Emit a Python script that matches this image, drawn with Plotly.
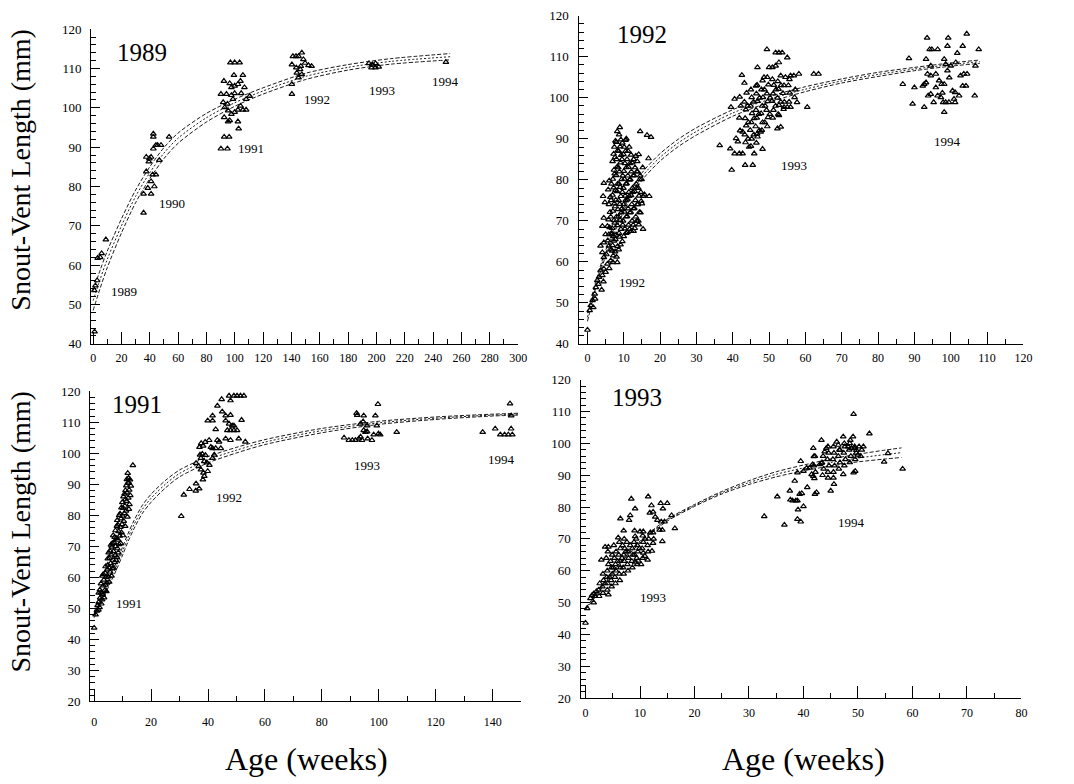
import plotly.graph_objects as go

W, H = 1074, 784
FONT = "Liberation Serif"

# ---------------- data: panel "1989" ----------------
p1989_pts = [
    (1.0, 43.1), (2.8, 56.1), (1.6, 54.8), (0.8, 53.6), (3.2, 61.8), (5.0, 62.0), (6.0, 63.0), (9.0, 66.5),
    (35.6, 73.3), (35.6, 78.1), (38.6, 79.6), (40.9, 78.1), (40.9, 81.3), (43.2, 80.0), (37.5, 83.8),
    (42.0, 83.0), (44.3, 83.0), (39.3, 86.3), (39.7, 87.1), (40.9, 87.5), (42.5, 89.6), (44.3, 90.5),
    (42.5, 93.4), (42.5, 92.6), (45.5, 90.5), (47.9, 90.5), (46.7, 86.7), (53.6, 92.6), (37.5, 87.5),
    (96.9, 111.5), (99.9, 111.5), (103.4, 111.5), (99.4, 108.3), (105.7, 108.3), (92.3, 106.8),
    (96.4, 106.2), (97.6, 105.2), (99.9, 105.6), (102.2, 106.0), (104.0, 106.8), (106.8, 105.2),
    (90.2, 103.5), (94.1, 103.5), (97.6, 103.2), (99.9, 103.7), (104.5, 103.7), (108.0, 102.2),
    (91.8, 101.4), (94.8, 101.0), (98.7, 102.2), (92.9, 100.1), (95.3, 99.3), (102.2, 99.5),
    (104.0, 100.5), (105.7, 99.5), (108.0, 99.5), (97.6, 98.4), (99.9, 98.9), (92.5, 97.6),
    (96.4, 96.8), (102.2, 96.5), (95.3, 96.5), (102.7, 94.7), (92.5, 92.6), (96.0, 92.6),
    (90.2, 89.6), (94.8, 89.6), (110.5, 103.0),
    (141.0, 113.1), (143.2, 113.1), (145.0, 113.1), (147.3, 114.0), (140.3, 111.0), (143.4, 110.2),
    (146.6, 110.6), (148.4, 112.3), (149.6, 111.4), (152.0, 110.8), (154.2, 110.6), (143.8, 108.9),
    (147.3, 108.5), (145.0, 107.7), (140.3, 106.0), (140.3, 103.5), (146.1, 109.8),
    (194.7, 111.3), (197.0, 111.0), (199.3, 111.3), (196.5, 110.2), (199.3, 110.2), (201.6, 110.4),
    (249.0, 111.6),
]
c1_x = [0, 5, 10, 20, 30, 40, 50, 60, 80, 100, 120, 150, 180, 210, 252]
c1_mid = [51.0, 56.5, 61.5, 70.0, 77.5, 83.5, 88.5, 92.3, 97.5, 101.3, 104.3, 108.0, 110.3, 111.8, 113.0]
c1_up = [53.5, 58.8, 63.6, 71.8, 79.1, 85.0, 89.9, 93.6, 98.6, 102.2, 105.1, 108.8, 111.0, 112.5, 113.8]
c1_lo = [48.5, 54.2, 59.4, 68.2, 75.9, 82.0, 87.1, 91.0, 96.4, 100.4, 103.5, 107.2, 109.6, 111.1, 112.2]
p1_labels = [("1989", 22, 53.2), ("1990", 56, 75.8), ("1991", 111.4, 89.6),
             ("1992", 157.7, 102.2), ("1993", 204, 104.3), ("1994", 249, 106.6)]

# ---------------- data: panel "1992" ----------------
p1992_pts = [
    (0.0, 43.4), (0.6, 48.2), (0.9, 49.4), (1.4, 50.6), (1.6, 48.9), (2.0, 52.2), (2.3, 53.8), (2.1, 51.0),
    (2.7, 55.5), (3.2, 56.3), (3.0, 54.6), (3.6, 57.9), (4.1, 56.7), (3.9, 53.2), (4.5, 58.3), (5.0, 57.5),
    (4.4, 55.2), (5.5, 59.5), (4.5, 61.1), (4.1, 62.3), (3.6, 63.9), (4.5, 64.7), (5.0, 66.7), (4.1, 68.7),
    (5.5, 68.7), (4.5, 70.7), (4.3, 76.0), (4.5, 79.2), (4.8, 74.5), (6.4, 60.3), (6.8, 62.7), (5.9, 63.9),
    (7.3, 65.1), (6.6, 66.7), (5.9, 66.7), (7.0, 59.9), (8.2, 59.9), (5.2, 61.8), (6.0, 58.4), (5.6, 65.2),
    (6.1, 68.4), (5.8, 70.3), (6.2, 72.1), (5.9, 74.0), (6.3, 75.8), (5.7, 77.6), (6.0, 79.8),
    (7.1, 61.5), (6.9, 64.0), (7.2, 66.3), (6.8, 68.2), (7.3, 70.1), (7.0, 72.4), (7.4, 74.2), (6.9, 76.3),
    (7.2, 78.1), (7.0, 80.2), (7.3, 82.4), (6.9, 84.5), (7.2, 86.3), (7.4, 88.0),
    (8.0, 61.2), (8.3, 63.8), (7.9, 66.6), (8.2, 68.9), (8.0, 71.0), (8.4, 72.8), (7.8, 75.1), (8.1, 77.2),
    (8.3, 79.0), (7.9, 81.1), (8.2, 83.2), (8.0, 85.0), (8.3, 87.1), (7.9, 89.2), (8.2, 91.8), (8.9, 92.8),
    (9.1, 64.2), (8.8, 66.1), (9.2, 68.0), (9.0, 70.2), (9.3, 72.0), (8.9, 74.1), (9.2, 76.0), (9.0, 78.2),
    (9.4, 80.1), (8.8, 82.0), (9.1, 84.2), (9.3, 86.0), (9.0, 88.1), (9.2, 89.8),
    (10.0, 66.2), (10.3, 68.1), (9.8, 70.0), (10.2, 72.2), (10.0, 74.0), (10.4, 76.1), (9.9, 78.0),
    (10.2, 80.2), (10.0, 82.1), (10.3, 84.0), (9.9, 86.2), (10.1, 88.0), (10.5, 89.7), (10.7, 90.0),
    (11.0, 67.2), (11.3, 69.0), (10.9, 71.1), (11.2, 73.0), (11.0, 75.2), (11.4, 77.0), (10.8, 79.1),
    (11.1, 81.0), (11.3, 83.1), (10.9, 85.0), (11.2, 87.0),
    (12.0, 67.5), (12.3, 70.0), (11.9, 72.1), (12.2, 74.0), (12.0, 76.2), (12.4, 78.0), (11.8, 80.1),
    (12.1, 82.0), (12.3, 84.2), (12.0, 86.1), (12.7, 67.5),
    (13.0, 68.2), (13.3, 71.0), (12.9, 73.1), (13.2, 75.0), (13.0, 77.2), (13.4, 79.0), (12.8, 81.1),
    (13.1, 83.0), (13.3, 85.8),
    (14.0, 70.0), (14.3, 72.1), (13.9, 74.0), (14.2, 76.1), (14.0, 78.0), (14.4, 80.1), (13.8, 82.0),
    (14.1, 86.2), (14.1, 69.1), (14.8, 74.8),
    (15.0, 74.2), (15.3, 76.0), (14.9, 80.1), (15.2, 83.0), (15.7, 76.4),
    (14.5, 91.8), (16.4, 90.9), (17.5, 90.4), (16.8, 85.2), (17.0, 76.0), (15.3, 68.0),
    (6.5, 63.0), (6.6, 67.0), (6.4, 71.0), (6.5, 75.0), (6.6, 79.0),
    (7.6, 62.5), (7.7, 65.5), (7.5, 69.5), (7.6, 73.5), (7.7, 77.5), (7.5, 81.5), (7.6, 85.5), (7.7, 89.5),
    (8.6, 63.0), (8.7, 67.0), (8.5, 71.0), (8.6, 75.0), (8.7, 79.0), (8.5, 83.0), (8.6, 87.0), (8.7, 91.0),
    (9.6, 65.0), (9.7, 69.0), (9.5, 73.0), (9.6, 77.0), (9.7, 81.0), (9.5, 85.0), (9.6, 89.0),
    (10.6, 67.0), (10.7, 71.0), (10.5, 75.0), (10.6, 79.0), (10.7, 83.0), (10.5, 87.0),
    (11.6, 68.0), (11.7, 72.0), (11.5, 76.0), (11.6, 80.0), (11.7, 84.0), (11.5, 88.0),
    (12.6, 69.0), (12.7, 73.0), (12.5, 77.0), (12.6, 81.0), (12.7, 85.0),
    (13.6, 70.0), (13.7, 74.0), (13.5, 78.0), (13.6, 82.0), (13.7, 84.5),
    (14.6, 72.0), (14.7, 77.0), (14.5, 81.0),
    # 1993
    (36.4, 88.4), (39.7, 82.4), (43.4, 83.6), (45.5, 83.6), (39.5, 97.7), (40.5, 99.7), (42.5, 105.5),
    (43.2, 103.6), (39.3, 87.6), (40.5, 86.4), (41.8, 86.4), (42.7, 86.4), (40.9, 90.1), (41.4, 89.3),
    (42.7, 91.7), (45.9, 86.4), (44.5, 88.0), (48.2, 87.5), (46.8, 90.5), (47.7, 91.7), (49.4, 111.8),
    (51.8, 111.0), (52.7, 111.0), (53.6, 111.0), (55.0, 109.8), (50.0, 107.4), (50.9, 107.4),
    (51.8, 107.8), (52.7, 108.6), (46.8, 107.4), (46.4, 102.9), (48.6, 105.0), (53.2, 105.4),
    (54.5, 105.0), (55.9, 105.4), (56.8, 105.4), (58.2, 105.8), (62.3, 105.8), (63.6, 105.8),
    (57.7, 98.9), (60.5, 97.7), (55.0, 97.7), (55.9, 97.7), (54.1, 97.7), (52.7, 95.7), (53.2, 92.9),
    (52.3, 92.5),
    (42.0, 92.0), (41.8, 95.1), (42.2, 98.0), (41.9, 100.2),
    (43.5, 89.1), (43.3, 91.0), (43.7, 93.2), (43.4, 95.0), (43.6, 97.1), (43.2, 99.0), (43.8, 101.2),
    (45.0, 88.2), (45.2, 90.0), (44.8, 92.1), (45.1, 94.0), (45.3, 96.2), (44.9, 98.0), (45.2, 100.1),
    (45.0, 102.0),
    (46.5, 89.0), (46.7, 91.2), (46.3, 93.0), (46.6, 95.1), (46.4, 97.0), (46.8, 99.2), (46.5, 101.0),
    (46.7, 103.1),
    (48.0, 92.1), (48.2, 94.0), (47.8, 96.2), (48.1, 98.0), (48.3, 100.1), (47.9, 102.0), (48.2, 104.2),
    (49.5, 93.0), (49.7, 95.2), (49.3, 97.0), (49.6, 99.1), (49.4, 101.0), (49.8, 103.2), (49.5, 105.0),
    (51.0, 95.1), (51.2, 97.0), (50.8, 99.2), (51.1, 101.0), (51.3, 103.1), (50.9, 104.5),
    (52.5, 96.0), (52.7, 98.2), (52.3, 100.0), (52.6, 102.1), (52.4, 104.0),
    (54.0, 97.2), (54.2, 99.0), (53.8, 101.1), (54.1, 103.0),
    (55.5, 99.0), (55.7, 101.2), (55.3, 103.0), (55.6, 104.5), (57.0, 100.1), (57.2, 102.0),
    (44.2, 90.0), (44.3, 94.0), (44.1, 98.0), (45.8, 91.0), (45.9, 95.0), (45.7, 99.0),
    (47.3, 92.0), (47.2, 96.0), (47.4, 100.0), (48.8, 94.0), (48.9, 98.0), (48.7, 102.0),
    (50.2, 96.0), (50.3, 100.0), (51.8, 98.0), (51.9, 102.0), (53.2, 99.0), (53.3, 103.0),
    # 1994
    (86.8, 103.3), (88.5, 109.6), (89.5, 98.5), (90.0, 102.5), (92.7, 97.7), (92.7, 103.3), (93.2, 103.7),
    (93.5, 114.6), (93.2, 109.4), (94.5, 107.8), (93.6, 105.8), (94.5, 105.4), (95.9, 105.8),
    (94.2, 111.8), (94.8, 111.8), (96.4, 111.8), (93.8, 100.5), (94.5, 100.9), (96.4, 100.5),
    (95.3, 98.9), (95.9, 102.5), (97.5, 103.3), (98.2, 103.3), (98.2, 96.5), (97.9, 98.9), (98.6, 98.9),
    (97.3, 100.1), (97.7, 101.2), (99.3, 114.6), (99.1, 112.6), (98.2, 109.4), (98.6, 108.2),
    (99.1, 106.6), (100.0, 107.8), (100.5, 101.7), (101.2, 101.3), (100.9, 99.7), (99.5, 98.9),
    (101.2, 98.9), (102.3, 100.5), (102.7, 105.4), (103.3, 112.6), (101.8, 110.9), (104.4, 115.6),
    (103.3, 102.9), (104.2, 102.9), (103.6, 105.8), (104.5, 105.8), (106.6, 100.5), (106.8, 107.8),
    (107.7, 111.8), (101.4, 108.6), (92.3, 102.9), (96.8, 104.2), (99.6, 104.9),
]
c2_x = [0, 1, 2, 4, 6, 8, 10, 12, 15, 20, 25, 30, 40, 50, 60, 70, 80, 90, 100, 108]
c2_mid = [46.5, 50.0, 53.5, 59.5, 64.5, 69.0, 73.0, 76.5, 80.8, 85.5, 89.0, 91.8, 96.3, 99.6, 102.1, 104.1, 105.7, 107.0, 108.1, 108.8]
c2_up = [47.5, 50.9, 54.3, 60.2, 65.2, 69.7, 73.7, 77.3, 81.7, 86.4, 89.9, 92.7, 97.1, 100.3, 102.7, 104.6, 106.2, 107.4, 108.5, 109.2]
c2_lo = [45.5, 49.1, 52.7, 58.8, 63.8, 68.3, 72.3, 75.7, 79.9, 84.6, 88.1, 90.9, 95.5, 98.9, 101.5, 103.6, 105.2, 106.6, 107.7, 108.4]
p2_labels = [("1992", 12.3, 55.0), ("1993", 56.8, 83.6), ("1994", 99.1, 89.3)]

# ---------------- data: panel "1991" ----------------
p1991_pts = [
    (0.0, 43.7), (0.5, 48.0), (1.0, 49.2), (1.2, 51.0), (1.6, 52.0), (1.9, 50.3), (2.1, 53.4), (2.4, 55.1),
    (2.0, 56.0), (2.8, 52.8), (3.0, 54.6), (3.2, 57.3), (3.4, 59.2), (2.9, 60.5), (3.7, 55.8), (4.0, 57.6),
    (4.2, 60.1), (3.9, 61.4), (4.5, 58.3), (4.6, 62.5), (4.8, 64.0), (5.0, 60.2), (5.2, 63.1), (5.4, 66.2),
    (5.1, 68.0), (5.6, 61.8), (5.8, 64.5), (6.0, 67.3), (6.2, 69.8), (5.9, 70.5), (6.4, 62.9), (6.6, 65.6),
    (6.8, 68.4), (7.0, 71.2), (6.7, 73.5), (7.2, 64.8), (7.4, 67.1), (7.6, 70.0), (7.8, 72.6), (7.5, 75.1),
    (8.0, 66.5), (8.2, 69.3), (8.4, 72.1), (8.6, 74.8), (8.3, 77.0), (8.1, 78.4), (8.8, 70.6), (9.0, 73.4),
    (9.2, 76.2), (9.4, 78.9), (9.1, 80.5), (9.6, 74.5), (9.8, 77.1), (10.0, 79.8), (10.2, 82.3), (9.9, 84.2),
    (10.4, 78.1), (10.6, 80.6), (10.8, 83.0), (11.0, 85.1), (10.7, 86.9), (11.2, 81.4), (11.4, 84.5),
    (11.6, 87.3), (11.3, 89.6), (11.8, 90.4), (11.5, 91.6), (12.1, 92.0), (12.3, 88.2), (12.0, 85.6),
    (12.6, 91.5), (11.8, 93.6), (13.6, 96.1), (12.4, 83.5), (12.7, 86.4),
    (1.5, 49.5), (2.5, 51.5), (3.5, 53.5), (4.3, 55.5), (5.3, 58.5), (6.1, 60.5), (6.9, 63.0), (7.7, 65.5),
    (8.5, 68.0), (9.3, 71.0), (10.1, 73.5), (10.9, 76.5), (11.7, 79.5), (12.2, 82.0), (11.0, 88.0),
    (10.3, 86.0), (9.6, 82.5), (8.8, 80.0), (8.0, 76.5), (7.2, 73.0), (6.4, 71.0), (5.6, 68.5), (4.8, 66.0),
    (4.0, 63.5), (3.2, 61.0), (2.4, 58.0), (1.6, 55.0), (12.9, 89.5), (12.2, 90.5),
    # 1992
    (30.6, 79.7), (31.5, 86.6), (33.5, 88.4), (35.8, 90.2), (36.9, 88.6), (35.7, 87.9),
    (37.0, 102.0), (37.6, 103.2), (38.3, 102.4), (39.0, 103.6), (37.2, 99.5), (38.0, 99.8), (39.1, 99.4),
    (37.5, 98.4), (38.7, 97.4), (35.8, 96.8), (36.7, 95.8), (37.5, 94.7), (38.4, 93.7), (38.7, 92.6),
    (39.9, 94.2), (41.6, 98.4), (42.2, 99.5), (42.7, 101.6), (41.0, 102.0), (41.6, 101.6), (43.9, 103.7),
    (43.3, 104.2), (40.4, 104.2), (39.6, 97.0), (40.5, 96.2), (38.2, 91.5),
    (39.9, 110.5), (41.6, 110.5), (41.6, 112.1), (42.7, 107.7), (43.3, 115.3), (44.8, 117.4),
    (45.0, 113.4), (46.2, 110.5), (47.4, 118.5), (49.1, 118.5), (50.2, 118.5), (51.4, 118.5),
    (52.6, 118.5), (47.9, 117.0), (47.9, 112.3), (46.2, 112.1), (47.4, 109.5), (48.5, 108.9),
    (46.8, 107.4), (47.9, 107.4), (49.1, 107.4), (50.2, 107.4), (49.1, 108.9), (51.8, 110.7),
    (46.2, 104.7), (47.9, 104.2), (50.8, 104.7), (53.1, 103.7), (44.5, 101.6),
    # 1993
    (87.8, 105.0), (89.5, 104.2), (90.7, 104.2), (91.8, 104.2), (92.2, 112.9), (92.4, 112.3), (93.0, 104.7),
    (93.6, 105.3), (94.1, 104.2), (94.7, 112.1), (94.7, 107.4), (95.3, 106.8), (95.9, 107.0), (95.9, 108.9),
    (96.1, 104.7), (97.6, 104.2), (98.2, 106.0), (98.8, 112.1), (99.3, 108.9), (99.7, 115.8),
    (99.9, 106.3), (100.5, 106.0), (106.3, 106.8), (93.6, 109.5), (94.5, 110.2),
    # 1994
    (136.5, 106.8), (140.9, 107.9), (142.7, 106.0), (144.2, 106.0), (145.5, 106.0), (146.9, 106.0),
    (146.5, 107.9), (146.1, 116.0), (146.5, 112.1),
]
c3_x = [0, 2, 4, 6, 8, 10, 12, 14, 17, 20, 25, 30, 40, 50, 60, 80, 100, 120, 140, 149]
c3_mid = [48.0, 52.0, 56.0, 60.0, 64.0, 68.5, 73.0, 77.0, 82.0, 85.5, 90.0, 93.5, 97.9, 101.0, 103.6, 107.3, 109.8, 111.3, 112.3, 112.6]
c3_up = [49.0, 53.0, 57.1, 61.2, 65.2, 69.8, 74.3, 78.3, 83.3, 86.8, 91.2, 94.6, 98.9, 101.9, 104.4, 108.0, 110.3, 111.7, 112.6, 112.9]
c3_lo = [47.0, 51.0, 54.9, 58.8, 62.8, 67.2, 71.7, 75.7, 80.7, 84.2, 88.8, 92.4, 96.9, 100.1, 102.8, 106.6, 109.3, 110.9, 112.0, 112.3]
p3_labels = [("1991", 12.1, 51.6), ("1992", 47.4, 85.8), ("1993", 95.9, 96.1), ("1994", 143.2, 97.9)]

# ---------------- data: panel "1993" ----------------
p1993_pts = [
    (0.0, 43.6), (0.3, 48.2), (0.9, 51.3), (1.2, 52.3), (1.5, 52.8), (1.5, 50.0), (1.7, 52.0),
    (2.5, 52.0), (2.4, 54.0), (2.6, 56.0), (3.2, 53.0), (3.1, 55.0), (3.3, 57.0), (3.2, 59.0), (2.9, 63.4),
    (3.6, 67.5), (4.2, 67.5), (4.2, 52.5), (4.0, 54.0), (4.1, 56.0), (3.9, 58.0), (4.0, 60.0), (4.2, 62.0),
    (3.8, 64.0), (4.1, 66.0), (4.8, 55.0), (4.7, 57.0), (4.9, 59.0), (4.8, 61.0), (4.6, 63.0), (4.9, 65.0),
    (5.5, 56.0), (5.4, 58.0), (5.6, 60.0), (5.5, 62.0), (5.3, 64.0), (5.6, 66.0), (6.3, 57.0), (6.2, 59.0),
    (6.4, 61.0), (6.3, 63.0), (6.1, 65.0), (6.4, 67.0), (6.2, 69.0), (7.0, 59.0), (6.9, 61.0), (7.1, 63.0),
    (7.0, 65.0), (6.8, 68.0), (7.1, 70.0), (7.8, 60.0), (7.7, 62.0), (7.9, 64.0), (7.8, 66.0), (7.6, 69.0),
    (8.6, 61.0), (8.5, 63.0), (8.7, 65.0), (8.6, 67.0), (9.5, 62.0), (9.4, 64.0), (9.6, 66.0), (9.5, 68.0),
    (9.3, 70.0), (10.5, 64.0), (10.4, 67.0), (10.6, 69.0), (10.5, 71.0), (11.5, 66.0), (11.4, 68.0),
    (11.6, 70.0), (12.5, 70.0), (12.4, 72.0),
    (6.4, 76.4), (7.0, 72.6), (8.0, 75.9), (8.2, 77.4), (8.4, 82.6), (9.1, 79.5), (9.0, 72.6), (9.1, 70.8),
    (10.0, 72.3), (10.6, 72.3), (11.5, 83.3), (11.8, 78.2), (12.4, 78.5), (12.1, 80.5), (12.8, 76.9),
    (13.2, 75.9), (13.8, 81.2), (15.0, 81.2), (14.2, 79.5), (13.9, 75.4), (14.5, 75.4), (13.6, 72.8),
    (14.1, 72.8), (14.1, 69.2), (15.8, 77.4), (16.4, 73.3), (12.2, 66.2), (12.4, 68.7), (11.4, 63.4),
    (10.6, 65.6), (10.9, 64.6), (9.1, 62.6), (9.7, 63.1), (7.2, 67.0), (6.0, 70.4), (5.2, 68.0),
    (3.6, 56.0), (4.4, 58.0), (5.1, 61.0), (5.9, 63.0), (6.7, 64.0), (7.4, 66.0), (8.2, 68.0),
    (9.0, 65.0), (9.9, 67.0), (10.9, 70.0), (11.9, 72.0), (8.9, 69.0), (10.2, 62.0), (2.0, 53.5),
    # 1994
    (32.8, 77.1), (35.2, 83.3), (36.5, 74.4), (37.5, 85.1), (37.6, 82.3), (38.0, 82.0), (38.6, 82.0),
    (38.9, 82.0), (38.4, 88.2), (38.9, 90.8), (39.0, 79.2), (38.9, 76.2), (39.5, 75.4), (39.3, 84.1),
    (39.7, 84.3), (40.0, 80.2), (39.5, 94.4), (40.0, 91.3), (40.6, 92.3), (41.1, 92.3), (40.7, 86.2),
    (41.5, 90.3), (41.7, 93.4), (41.8, 98.5), (41.9, 95.9), (42.1, 84.1), (42.4, 84.6), (41.8, 89.7),
    (43.0, 93.4), (43.3, 93.8), (43.3, 101.0), (43.9, 97.4), (44.2, 98.5), (44.5, 89.2), (45.5, 89.2),
    (45.0, 85.1), (45.6, 87.2), (46.1, 100.5), (46.4, 99.5), (46.7, 97.9), (47.3, 90.3), (47.3, 102.1),
    (48.2, 99.0), (48.5, 100.0), (48.8, 98.5), (49.1, 102.1), (49.2, 109.2), (49.4, 98.5), (49.7, 97.9),
    (49.2, 90.8), (49.5, 91.3), (50.0, 96.4), (50.2, 99.0), (51.0, 99.0), (52.1, 103.1), (54.8, 94.2),
    (55.5, 96.9), (58.2, 92.0),
    (42.0, 89.0), (42.2, 91.0), (41.9, 93.0), (42.1, 96.0), (43.5, 90.0), (43.7, 92.0), (43.4, 94.0),
    (43.6, 96.0), (44.5, 91.0), (44.7, 93.0), (44.4, 95.0), (44.6, 97.0), (44.5, 99.0), (45.5, 91.0),
    (45.7, 93.0), (45.4, 95.0), (45.6, 97.0), (45.5, 99.0), (46.5, 92.0), (46.7, 94.0), (46.4, 96.0),
    (46.6, 98.0), (47.5, 93.0), (47.7, 95.0), (47.4, 97.0), (47.6, 99.0), (47.5, 100.0), (48.5, 94.0),
    (48.7, 96.0), (48.4, 98.0), (48.6, 101.0), (49.5, 95.0), (49.7, 97.0), (49.4, 99.0), (50.5, 96.0),
    (50.7, 98.0),
]
c4_x = [0, 2, 5, 8, 10, 12, 15, 20, 25, 30, 35, 40, 45, 50, 55, 58]
c4_mid = [48.0, 52.5, 59.5, 65.5, 69.0, 72.0, 75.9, 80.5, 84.5, 87.7, 90.3, 92.3, 94.0, 95.4, 96.5, 97.1]
c4_up = [48.3, 52.8, 59.8, 65.8, 69.3, 72.3, 76.2, 80.8, 84.9, 88.3, 91.1, 93.2, 95.1, 96.6, 97.9, 98.6]
c4_lo = [47.7, 52.2, 59.2, 65.2, 68.7, 71.7, 75.6, 80.2, 84.1, 87.1, 89.5, 91.4, 92.9, 94.2, 95.1, 95.6]
p4_labels = [("1993", 12.4, 51.5), ("1994", 48.8, 75.2)]

panel_titles = ["1989", "1992", "1991", "1993"]
title_pos = [(34.7, 114.0), (15.0, 115.4), (15.0, 115.8), (9.4, 114.4)]
y_title = "Snout-Vent Length (mm)"
x_title = "Age (weeks)"

# ---------------- layout geometry (pixels) ----------------
def fx(px):
    return px / W

def fy(py):
    return 1 - py / H

panels = [
    dict(pts=p1989_pts, cx=c1_x, cm=c1_mid, cu=c1_up, cl=c1_lo, labels=p1_labels,
         xdom=(fx(91), fx(522)), ydom=(fy(343.4), fy(22.6)), xr=[-1.4, 300], yr=[40, 120],
         xd=20, xm=10, xstand=3),
    dict(pts=p1992_pts, cx=c2_x, cm=c2_mid, cu=c2_up, cl=c2_lo, labels=p2_labels,
         xdom=(fx(583), fx(1032)), ydom=(fy(343.5), fy(8.9)), xr=[-2.45, 120], yr=[40, 120],
         xd=10, xm=5, xstand=3),
    dict(pts=p1991_pts, cx=c3_x, cm=c3_mid, cu=c3_up, cl=c3_lo, labels=p3_labels,
         xdom=(fx(90), fx(525)), ydom=(fy(708), fy(391.7)), xr=[-1.4, 150], yr=[20, 120],
         xd=20, xm=10, xstand=9),
    dict(pts=p1993_pts, cx=c4_x, cm=c4_mid, cu=c4_up, cl=c4_lo, labels=p4_labels,
         xdom=(fx(585), fx(1030)), ydom=(fy(704.6), fy(380)), xr=[-0.91, 80], yr=[20, 120],
         xd=10, xm=5, xstand=3),
]

fig = go.Figure()
annotations = []
layout = {}
for i, p in enumerate(panels):
    n = "" if i == 0 else str(i + 1)
    xa, ya = "x" + n, "y" + n
    for arr, dash in ((p["cu"], "4px,2px"), (p["cm"], "2px,2px"), (p["cl"], "4px,2px")):
        fig.add_trace(go.Scatter(x=p["cx"], y=arr, mode="lines", xaxis=xa, yaxis=ya,
                                 line=dict(color="black", width=0.9, dash=dash, shape="spline", smoothing=0.8),
                                 showlegend=False, hoverinfo="skip"))
    xs = [q[0] for q in p["pts"]]
    ys = [q[1] for q in p["pts"]]
    fig.add_trace(go.Scatter(x=xs, y=ys, mode="markers", xaxis=xa, yaxis=ya,
                             marker=dict(symbol="triangle-up-open", size=5, color="black",
                                         line=dict(width=1.2, color="black")),
                             showlegend=False))
    layout["xaxis" + n] = dict(
        domain=list(p["xdom"]), range=p["xr"], anchor=ya, showgrid=False, zeroline=False,
        showline=True, linecolor="black", linewidth=1.2, ticks="inside", ticklen=12, tickwidth=1.2,
        tickcolor="black", tick0=0, dtick=p["xd"],
        minor=dict(dtick=p["xm"], ticks="inside", ticklen=5, tickwidth=1, tickcolor="black"),
        tickfont=dict(family=FONT, size=12, color="black"), ticklabelstandoff=p["xstand"],
        fixedrange=True)
    layout["yaxis" + n] = dict(
        domain=list(p["ydom"]), range=p["yr"], anchor=xa, showgrid=False, zeroline=False,
        showline=True, linecolor="black", linewidth=1.2, ticks="inside", ticklen=9, tickwidth=1.2,
        tickcolor="black", tick0=0, dtick=10,
        minor=dict(dtick=2, ticks="inside", ticklen=5, tickwidth=1, tickcolor="black"),
        tickfont=dict(family=FONT, size=13, color="black"), ticklabelstandoff=6,
        fixedrange=True)
    for txt, lx, ly in p["labels"]:
        annotations.append(dict(text=txt, x=lx, y=ly, xref=xa, yref=ya, showarrow=False,
                                xanchor="center", yanchor="middle",
                                font=dict(family=FONT, size=13, color="black")))
    tx, ty = title_pos[i]
    annotations.append(dict(text=panel_titles[i], x=tx, y=ty, xref=xa, yref=ya, showarrow=False,
                            xanchor="center", yanchor="middle",
                            font=dict(family=FONT, size=25, color="black")))

for yc in (fy(166), fy(535)):
    annotations.append(dict(text=y_title, x=fx(20), y=yc, xref="paper", yref="paper", showarrow=False,
                            xanchor="center", yanchor="middle",
                            textangle=-90, font=dict(family=FONT, size=28, color="black")))
for xc in (fx(308), fx(810)):
    annotations.append(dict(text=x_title, x=xc, y=fy(767), xref="paper", yref="paper", showarrow=False,
                            xanchor="center", yanchor="middle",
                            font=dict(family=FONT, size=32, color="black")))

fig.update_layout(width=W, height=H, margin=dict(l=0, r=0, t=0, b=0),
                  paper_bgcolor="white", plot_bgcolor="white", annotations=annotations, **layout)
fig.write_html("out.html")
